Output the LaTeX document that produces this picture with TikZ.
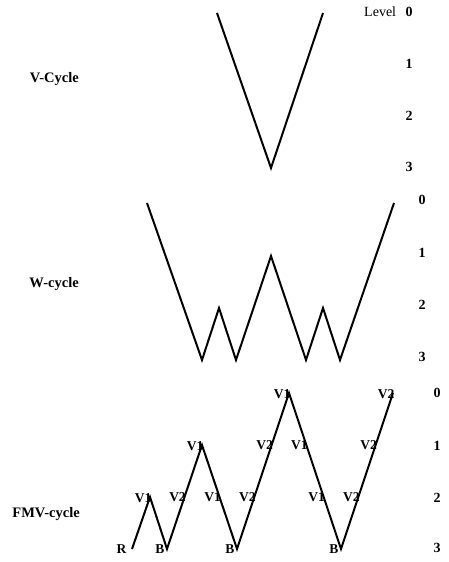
\documentclass[tikz,border=0pt]{standalone}
\usepackage{fontspec}
\setmainfont{Liberation Serif}
\usetikzlibrary{positioning}
\tikzset{
	cycleline/.style={line width=2pt, line join=miter},
	levelnum/.style={font=\bfseries\fontsize{14}{14}\selectfont, inner sep=0pt},
	cyclename/.style={font=\bfseries\fontsize{14.5}{15}\selectfont, anchor=east, inner sep=0pt},
	steplabel/.style={font=\bfseries\fontsize{13.5}{14}\selectfont, inner sep=0.5pt},
	onleft/.style={steplabel, xshift=-7pt}
}
\begin{document}
\begin{tikzpicture}[x=1pt,y=-1pt]
				\useasboundingbox (0,0) rectangle (449,562);
				% V-cycle
				\node[cyclename] (vname) at (79,79) {V-Cycle};
				\coordinate (va) at (217,13);
				\coordinate (vb) at (271,168);
				\coordinate (vc) at (323,13);
				\draw[cycleline] (va) -- (vb) -- (vc);
				\node[levelnum] (v0) at (409,12) {0};
				\node[font=\fontsize{14}{14}\selectfont, inner sep=0pt] (level) [left=9pt of v0] {Level};
				\node[levelnum] (v1) at (409,64) {1};
				\node[levelnum] (v2) at (409,116) {2};
				\node[levelnum] (v3) at (409,167) {3};
				% W-cycle
				\node[cyclename] (wname) at (79,284) {W-cycle};
				\coordinate (wa) at (147,203);
				\coordinate (wb) at (202,360);
				\coordinate (wc) at (219,308);
				\coordinate (wd) at (236,360);
				\coordinate (we) at (271,256);
				\coordinate (wf) at (306,360);
				\coordinate (wg) at (323,308);
				\coordinate (wh) at (340,360);
				\coordinate (wi) at (394,203);
				\draw[cycleline] (wa) -- (wb) -- (wc) -- (wd) -- (we) -- (wf) -- (wg) -- (wh) -- (wi);
				\node[levelnum] (w0) at (422,200) {0};
				\node[levelnum] (w1) at (422,253) {1};
				\node[levelnum] (w2) at (422,305) {2};
				\node[levelnum] (w3) at (422,357) {3};
				% FMV-cycle
				\node[cyclename] (fname) at (80,514) {FMV-cycle};
				\coordinate (r)  at (132,549);
				\coordinate (p1) at (150,497);
				\coordinate (b1) at (167,549);
				\coordinate (p2) at (202,445);
				\coordinate (b2) at (237,549);
				\coordinate (p3) at (289,393);
				\coordinate (b3) at (341,549);
				\coordinate (e)  at (393,393);
				\draw[cycleline] (r) -- (p1) -- (b1)
					-- node[onleft, pos=.5] (s1) {V2} (p2)
					-- node[onleft, pos=.5] (s2) {V1} (b2)
					-- node[onleft, pos=.333] (s3) {V2} node[onleft, pos=.667] (s4) {V2} (p3)
					-- node[onleft, pos=.333] (s5) {V1} node[onleft, pos=.667] (s6) {V1} (b3)
					-- node[onleft, pos=.333] (s7) {V2} node[onleft, pos=.667] (s8) {V2} (e);
				\node[steplabel, anchor=east] (t1) at ([xshift=2pt,yshift=-1pt]p1) {V1};
				\node[steplabel, anchor=east] (t2) at ([xshift=2pt,yshift=-1pt]p2) {V1};
				\node[steplabel, anchor=east] (t3) at ([xshift=2pt,yshift=-1pt]p3) {V1};
				\node[steplabel, anchor=east] (t4) at ([xshift=2pt,yshift=-1pt]e) {V2};
				\node[steplabel] (rl) [left=5pt of r] {R};
				\node[steplabel] (bl1) [left=2pt of b1] {B};
				\node[steplabel] (bl2) [left=2pt of b2] {B};
				\node[steplabel] (bl3) [left=2pt of b3] {B};
				\node[levelnum] (f0) at (437,393) {0};
				\node[levelnum] (f1) at (437,446) {1};
				\node[levelnum] (f2) at (437,498) {2};
				\node[levelnum] (f3) at (437,548) {3};
			\end{tikzpicture}
\end{document}
